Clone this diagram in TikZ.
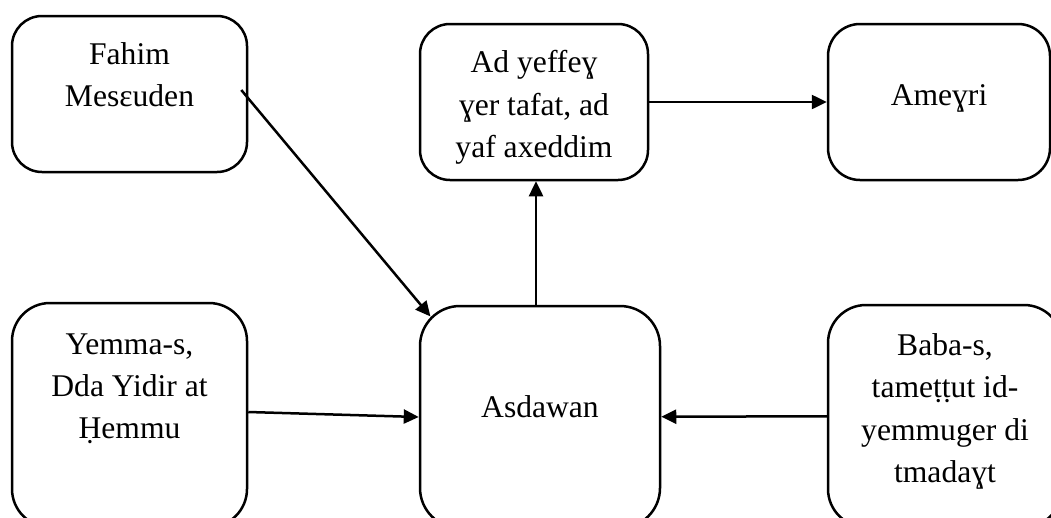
\documentclass[tikz,border=0pt]{standalone}
\usepackage{fontspec}
\setmainfont{Liberation Serif}
\usetikzlibrary{arrows.meta,positioning}

\begin{document}
\begin{tikzpicture}[x=1pt,y=-1pt,line width=2.5pt,
    >={Triangle[length=15pt,width=14pt]},
    box node/.style={draw,rectangle,rounded corners=#1,inner sep=0pt},
    box node/.default=30pt,
    box text/.style={font=\fontsize{31.6}{42.3}\selectfont,align=center,inner sep=0pt}]

    \useasboundingbox (0,0) rectangle (1051,517);

    \node[box node,minimum width=235pt,minimum height=156pt] (fahim) at (129.5,94) {};
    \node[box node,minimum width=228pt,minimum height=156pt] (yeffeg) at (534,102) {};
    \node[box node=32pt,minimum width=222pt,minimum height=156pt] (ameyri) at (939,102) {};
    \node[box node=38pt,minimum width=235pt,minimum height=224pt] (yemma) at (129.5,415) {};
    \node[box node=40pt,minimum width=240pt,minimum height=222pt] (asdawan) at (540,417) {};
    \node[box node=38pt,minimum width=234pt,minimum height=222pt] (baba) at (945,416) {};

    \node[box text] (fahimtxt) [below=26.6pt of fahim.north] {Fahim\\Mesɛuden};
    \node[box text] (yeffegtxt) [below=26.6pt of yeffeg.north] {Ad yeffeɣ\\ɣer tafat, ad\\yaf axeddim};
    \node[box text] (ameyritxt) [below=60.8pt of ameyri.north] {Ameɣri};
    \node[box text] (yemmatxt) [below=30.6pt of yemma.north] {Yemma-s,\\Dda Yidir at\\Ḥemmu};
    \node[box text] (asdawantxt) [below=89.6pt of asdawan.north] {Asdawan};
    \node[box text] (babatxt) [below=28.6pt of baba.north] {Baba-s,\\tameṭṭut id-\\yemmuger di\\tmadaɣt};

    \coordinate (fahimout) at ([xshift=-7pt,yshift=4pt]fahim.east);
    \coordinate (asdawanin) at ([xshift=11.7pt,yshift=-11.7pt]asdawan.north west);

    \path[->] (fahimout) edge (asdawanin);
    \path[->] ([xshift=-4pt]asdawan.north) edge ([xshift=2pt]yeffeg.south);
    \path[->] (yeffeg) edge (ameyri);
    \path[->] ([yshift=3pt]yemma.east) edge (asdawan.west);
    \path[->] (baba) edge (asdawan);
\end{tikzpicture}
\end{document}
